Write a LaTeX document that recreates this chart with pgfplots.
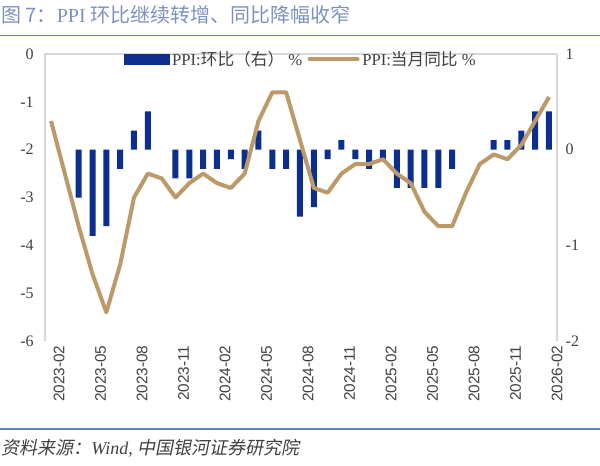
\documentclass[border=0pt]{standalone}
\usepackage{fontspec}
\setmainfont{Liberation Serif}
\newfontfamily\cjk{Noto Sans CJK SC}
\newfontfamily\cjkit[FakeSlant=0.2]{Noto Sans CJK SC}
\newfontfamily\arial{Liberation Sans}
\usepackage{pgfplots}
\usepackage{pgfplotstable}
\pgfplotsset{compat=1.18}
\definecolor{barblue}{RGB}{12,46,140}
\definecolor{lntan}{RGB}{188,153,104}
\definecolor{axgrey}{RGB}{217,217,217}
\definecolor{txtgrey}{RGB}{64,64,64}
\definecolor{titleblue}{RGB}{125,145,190}
\definecolor{ruleblue}{RGB}{100,128,185}
\pgfplotstableread{
x mom yoy
0 0.0 -1.4
1 0.0 -2.5
2 -0.5 -3.6
3 -0.9 -4.6
4 -0.8 -5.4
5 -0.2 -4.4
6 0.2 -3.0
7 0.4 -2.5
8 0.0 -2.6
9 -0.3 -3.0
10 -0.3 -2.7
11 -0.2 -2.5
12 -0.2 -2.7
13 -0.1 -2.8
14 -0.2 -2.5
15 0.2 -1.4
16 -0.2 -0.8
17 -0.2 -0.8
18 -0.7 -1.8
19 -0.6 -2.8
20 -0.1 -2.9
21 0.1 -2.5
22 -0.1 -2.3
23 -0.2 -2.3
24 -0.1 -2.2
25 -0.4 -2.5
26 -0.4 -2.7
27 -0.4 -3.3
28 -0.4 -3.6
29 -0.2 -3.6
30 0.0 -2.9
31 0.0 -2.3
32 0.1 -2.1
33 0.1 -2.2
34 0.2 -1.9
35 0.4 -1.4
36 0.4 -0.9
}\data
\pgfplotsset{
  common/.style={
    at={(33.75pt,93pt)}, anchor=south west,
    width=384pt, height=215.25pt, scale only axis,
    xmin=-0.434, xmax=36.58,
    axis line style={draw=none},
    major tick length=0pt,
    clip=false,
    /pgf/number format/assume math mode=true,
  }
}
\begin{document}
\begin{tikzpicture}[x=0.75pt,y=0.75pt]
\useasboundingbox (0,0) rectangle (600,465);
% title
\node[anchor=west,inner sep=0pt,text=titleblue,font=\fontsize{15pt}{17pt}\selectfont] at (1,450) {{\cjk 图 7：}PPI {\cjk 环比继续转增、同比降幅收窄}};
\draw[ruleblue,line width=0.8pt] (0,429.5) -- (600,429.5);
% source
\draw[ruleblue,line width=0.8pt] (0,36) -- (600,36);
\node[anchor=west,inner sep=0pt,text=txtgrey,font=\fontsize{13.5pt}{15pt}\selectfont] at (1,17) {{\cjkit 资料来源：}\textit{Wind,}\ {\cjkit 中国银河证券研究院}};
% bars on right axis
\begin{axis}[common,
  ymin=-2, ymax=1, ytick={-2,-1,0,1},
  yticklabel pos=right,
  xtick=\empty,
  yticklabel style={text=txtgrey,font=\fontsize{12pt}{13pt}\selectfont,xshift=3pt},
  ybar, bar width=4.5pt,
]
\draw[axgrey,line width=1.1pt] (rel axis cs:0,0) -- (rel axis cs:0,1) -- (rel axis cs:1,1) -- (rel axis cs:1,0);
\addplot[fill=barblue,draw=none,bar shift=0pt,
  y filter/.code={\pgfmathparse{abs(\pgfmathresult)<0.001 ? nan : \pgfmathresult}}] table[x=x,y=mom]{\data};
\end{axis}
% line on left axis
\begin{axis}[common,
  ymin=-6, ymax=0, ytick={-6,-5,...,0},
  yticklabel pos=left,
  xtick={0,3,...,36},
  xticklabels={2023-02,2023-05,2023-08,2023-11,2024-02,2024-05,2024-08,2024-11,2025-02,2025-05,2025-08,2025-11,2026-02},
  xticklabel pos=lower,
  xticklabel style={rotate=90,anchor=east,text=txtgrey,font=\arial\fontsize{11.5pt}{13pt}\selectfont,yshift=-6pt},
  yticklabel style={text=txtgrey,font=\fontsize{12pt}{13pt}\selectfont,xshift=-5pt},
  legend style={at={(0.5,1)},anchor=center,yshift=-3.8pt,draw=none,fill=none,
    font=\fontsize{12.5pt}{14pt}\selectfont,text=txtgrey,legend columns=2,
    /tikz/every even column/.append style={column sep=2pt},
    inner sep=0pt},
  legend cell align=left,
]
\addlegendimage{legend image code/.code={\fill[barblue] (0pt,-3.75pt) rectangle (34pt,3.75pt);}}
\addlegendentry{PPI:{\cjk 环比（右）} \%}
\addplot[lntan,line width=3pt,line join=round,legend image code/.code={\draw[lntan,line width=3pt,line cap=round] (0pt,0pt) -- (36pt,0pt);}] table[x=x,y=yoy]{\data};
\addlegendentry{PPI:{\cjk 当月同比} \%}
\end{axis}
\end{tikzpicture}
\end{document}
